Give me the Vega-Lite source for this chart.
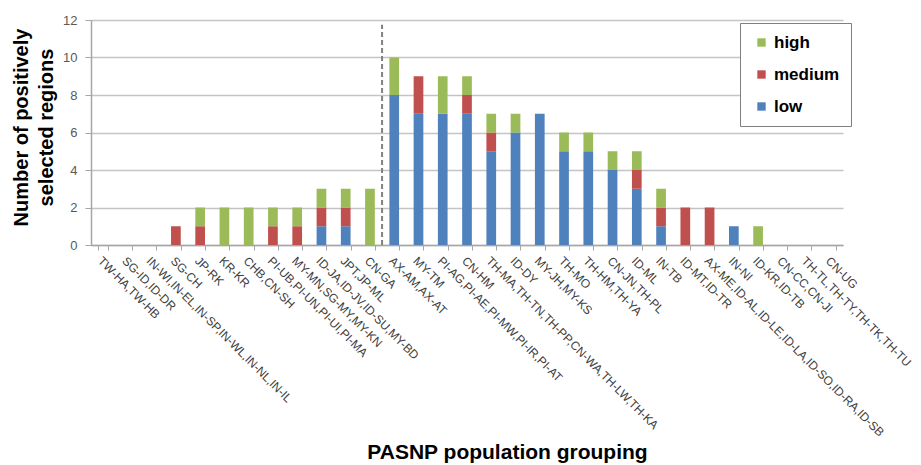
{
  "$schema": "https://vega.github.io/schema/vega-lite/v6.json",
  "width": 752,
  "height": 225,
  "autosize": {"type": "none"},
  "padding": {"left": 91, "top": 20, "right": 78, "bottom": 220},
  "background": "white",
  "config": {
    "view": {"stroke": null},
    "font": "Liberation Sans"
  },
  "resolve": {"axis": {"x": "independent", "y": "independent"}},
  "layer": [
    {
      "data": {
        "values": [
          {"g": "SG-CH", "level": "medium", "rank": 2, "n": 1},
          {"g": "JP-RK", "level": "medium", "rank": 2, "n": 1},
          {"g": "JP-RK", "level": "high", "rank": 3, "n": 1},
          {"g": "KR-KR", "level": "high", "rank": 3, "n": 2},
          {"g": "CHB,CN-SH", "level": "high", "rank": 3, "n": 2},
          {"g": "PI-UB,PI-UN,PI-UI,PI-MA", "level": "medium", "rank": 2, "n": 1},
          {"g": "PI-UB,PI-UN,PI-UI,PI-MA", "level": "high", "rank": 3, "n": 1},
          {"g": "MY-MN,SG-MY,MY-KN", "level": "medium", "rank": 2, "n": 1},
          {"g": "MY-MN,SG-MY,MY-KN", "level": "high", "rank": 3, "n": 1},
          {"g": "ID-JA,ID-JV,ID-SU,MY-BD", "level": "low", "rank": 1, "n": 1},
          {"g": "ID-JA,ID-JV,ID-SU,MY-BD", "level": "medium", "rank": 2, "n": 1},
          {"g": "ID-JA,ID-JV,ID-SU,MY-BD", "level": "high", "rank": 3, "n": 1},
          {"g": "JPT,JP-ML", "level": "low", "rank": 1, "n": 1},
          {"g": "JPT,JP-ML", "level": "medium", "rank": 2, "n": 1},
          {"g": "JPT,JP-ML", "level": "high", "rank": 3, "n": 1},
          {"g": "CN-GA", "level": "high", "rank": 3, "n": 3},
          {"g": "AX-AM,AX-AT", "level": "low", "rank": 1, "n": 8},
          {"g": "AX-AM,AX-AT", "level": "high", "rank": 3, "n": 2},
          {"g": "MY-TM", "level": "low", "rank": 1, "n": 7},
          {"g": "MY-TM", "level": "medium", "rank": 2, "n": 2},
          {"g": "PI-AG,PI-AE,PI-MW,PI-IR,PI-AT", "level": "low", "rank": 1, "n": 7},
          {"g": "PI-AG,PI-AE,PI-MW,PI-IR,PI-AT", "level": "high", "rank": 3, "n": 2},
          {"g": "CN-HM", "level": "low", "rank": 1, "n": 7},
          {"g": "CN-HM", "level": "medium", "rank": 2, "n": 1},
          {"g": "CN-HM", "level": "high", "rank": 3, "n": 1},
          {"g": "TH-MA,TH-TN,TH-PP,CN-WA,TH-LW,TH-KA", "level": "low", "rank": 1, "n": 5},
          {"g": "TH-MA,TH-TN,TH-PP,CN-WA,TH-LW,TH-KA", "level": "medium", "rank": 2, "n": 1},
          {"g": "TH-MA,TH-TN,TH-PP,CN-WA,TH-LW,TH-KA", "level": "high", "rank": 3, "n": 1},
          {"g": "ID-DY", "level": "low", "rank": 1, "n": 6},
          {"g": "ID-DY", "level": "high", "rank": 3, "n": 1},
          {"g": "MY-JH,MY-KS", "level": "low", "rank": 1, "n": 7},
          {"g": "TH-MO", "level": "low", "rank": 1, "n": 5},
          {"g": "TH-MO", "level": "high", "rank": 3, "n": 1},
          {"g": "TH-HM,TH-YA", "level": "low", "rank": 1, "n": 5},
          {"g": "TH-HM,TH-YA", "level": "high", "rank": 3, "n": 1},
          {"g": "CN-JN,TH-PL", "level": "low", "rank": 1, "n": 4},
          {"g": "CN-JN,TH-PL", "level": "high", "rank": 3, "n": 1},
          {"g": "ID-ML", "level": "low", "rank": 1, "n": 3},
          {"g": "ID-ML", "level": "medium", "rank": 2, "n": 1},
          {"g": "ID-ML", "level": "high", "rank": 3, "n": 1},
          {"g": "IN-TB", "level": "low", "rank": 1, "n": 1},
          {"g": "IN-TB", "level": "medium", "rank": 2, "n": 1},
          {"g": "IN-TB", "level": "high", "rank": 3, "n": 1},
          {"g": "ID-MT,ID-TR", "level": "medium", "rank": 2, "n": 2},
          {"g": "AX-ME,ID-AL,ID-LE,ID-LA,ID-SO,ID-RA,ID-SB", "level": "medium", "rank": 2, "n": 2},
          {"g": "IN-NI", "level": "low", "rank": 1, "n": 1},
          {"g": "ID-KR,ID-TB", "level": "high", "rank": 3, "n": 1}
        ]
      },
      "mark": {"type": "bar"},
      "encoding": {
        "x": {
          "field": "g",
          "type": "nominal",
          "scale": {
            "domain": ["TW-HA,TW-HB", "SG-ID,ID-DR", "IN-WI,IN-EL,IN-SP,IN-WL,IN-NL,IN-IL", "SG-CH", "JP-RK", "KR-KR", "CHB,CN-SH", "PI-UB,PI-UN,PI-UI,PI-MA", "MY-MN,SG-MY,MY-KN", "ID-JA,ID-JV,ID-SU,MY-BD", "JPT,JP-ML", "CN-GA", "AX-AM,AX-AT", "MY-TM", "PI-AG,PI-AE,PI-MW,PI-IR,PI-AT", "CN-HM", "TH-MA,TH-TN,TH-PP,CN-WA,TH-LW,TH-KA", "ID-DY", "MY-JH,MY-KS", "TH-MO", "TH-HM,TH-YA", "CN-JN,TH-PL", "ID-ML", "IN-TB", "ID-MT,ID-TR", "AX-ME,ID-AL,ID-LE,ID-LA,ID-SO,ID-RA,ID-SB", "IN-NI", "ID-KR,ID-TB", "CN-CC,CN-JI", "TH-TL,TH-TY,TH-TK,TH-TU", "CN-UG"],
            "paddingInner": 0.6,
            "paddingOuter": 0.3
          },
          "axis": {
            "title": "PASNP population grouping",
            "titleFontSize": 21,
            "titleFontWeight": "bold",
            "titleColor": "#000000",
            "titleX": 416,
            "titleY": 213,
            "titleAlign": "center",
            "titleBaseline": "alphabetic",
            "labelAngle": 45,
            "labelFontSize": 12,
            "labelColor": "#404040",
            "labelPadding": 5,
            "labelLimit": 0,
            "labelOverlap": false,
            "tickBand": "extent",
            "tickSize": 5,
            "tickColor": "#A6A6A6",
            "domainColor": "#A6A6A6",
            "domainWidth": 1.5
          }
        },
        "y": {
          "field": "n",
          "type": "quantitative",
          "aggregate": "sum",
          "stack": "zero",
          "scale": {"domain": [0, 12]},
          "axis": {
            "values": [0, 2, 4, 6, 8, 10, 12],
            "title": ["Number of positively", "selected regions"],
            "titleFontSize": 20,
            "titleFontWeight": "bold",
            "titleColor": "#000000",
            "titleAngle": -90,
            "titleX": -70,
            "titleY": 107,
            "titleAlign": "center",
            "titleBaseline": "middle",
            "titleLineHeight": 25,
            "labelFontSize": 13,
            "labelColor": "#595959",
            "labelPadding": 8,
            "tickSize": 6,
            "tickColor": "#A6A6A6",
            "domainColor": "#A6A6A6",
            "domainWidth": 1.5,
            "grid": true,
            "gridColor": "#C4C4C4",
            "gridWidth": 1.5
          }
        },
        "color": {
          "field": "level",
          "type": "nominal",
          "scale": {"domain": ["high", "medium", "low"], "range": ["#9BBB59", "#C0504D", "#4F81BD"]},
          "legend": {
            "title": null,
            "orient": "none",
            "legendX": 649,
            "legendY": 3,
            "padding": 11,
            "strokeColor": "#7F7F7F",
            "fillColor": "white",
            "symbolType": "square",
            "symbolSize": 70,
            "symbolStrokeWidth": 0,
            "symbolOffset": 2,
            "labelFontSize": 17,
            "labelFontWeight": "bold",
            "labelColor": "#000000",
            "labelOffset": 4,
            "rowPadding": 14
          }
        },
        "order": {"field": "rank", "type": "quantitative", "sort": "ascending"}
      }
    },
    {
      "data": {"values": [{"boundary": "AX-AM,AX-AT", "y0": 0, "y1": 11.75}]},
      "mark": {"type": "rule", "strokeDash": [5, 3], "color": "#808080", "strokeWidth": 2, "xOffset": -7.3},
      "encoding": {
        "x": {"field": "boundary", "type": "nominal", "bandPosition": 0, "axis": null},
        "y": {"field": "y0", "type": "quantitative", "axis": null},
        "y2": {"field": "y1"}
      }
    }
  ]
}
